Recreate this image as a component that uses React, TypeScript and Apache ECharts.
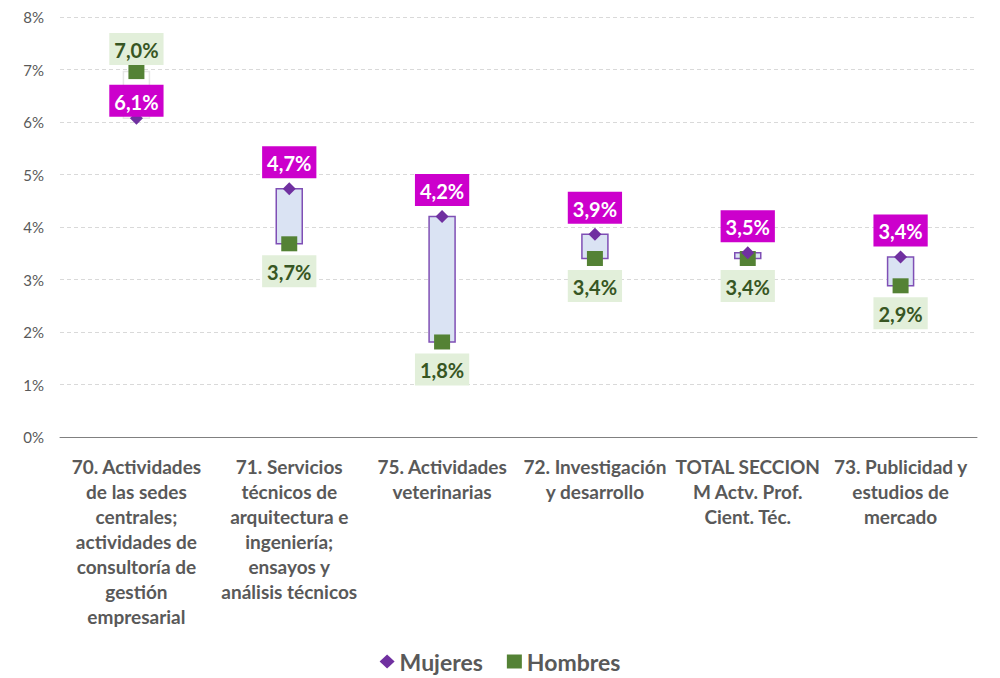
import React, { useEffect, useRef } from "react";
import * as echarts from "echarts";

const categories = [
  "70. Actividades\nde las sedes\ncentrales;\nactividades de\nconsultoría de\ngestión\nempresarial",
  "71. Servicios\ntécnicos de\narquitectura e\ningeniería;\nensayos y\nanálisis técnicos",
  "75. Actividades\nveterinarias",
  "72. Investigación\ny desarrollo",
  "TOTAL SECCION\nM Actv. Prof.\nCient. Téc.",
  "73. Publicidad y\nestudios de\nmercado",
];
const mujeres = [6.07, 4.73, 4.2, 3.86, 3.51, 3.43];
const hombres = [6.96, 3.68, 1.81, 3.4, 3.4, 2.88];
const yTicks = [0, 1, 2, 3, 4, 5, 6, 7, 8];

const FONT = "Lato, 'Open Sans', sans-serif";
const fmt = (v: number) => v.toFixed(1).replace(".", ",") + "%";

export default function App() {
  const ref = useRef<HTMLDivElement>(null);
  useEffect(() => {
    if (!ref.current) return;
    const chart = echarts.init(ref.current, null, { renderer: "svg" });
    const barData = categories.map((_, i) => [i, mujeres[i], hombres[i]]);
    chart.setOption({
      animation: false,
      textStyle: { fontFamily: FONT },
      grid: { left: 60, right: 23, top: 17, bottom: 241 },
      legend: {
        bottom: 0,
        left: "center",
        itemGap: 24,
        itemWidth: 15,
        itemHeight: 14,
        textStyle: { fontFamily: FONT, fontSize: 23, fontWeight: "bold", color: "#595959" },
        data: [
          { name: "Mujeres", icon: "diamond", itemStyle: { color: "#7030A0", opacity: 1 } },
          { name: "Hombres", icon: "rect", itemStyle: { color: "#548235", opacity: 1 } },
        ],
      },
      xAxis: {
        type: "category",
        data: categories,
        axisLine: { lineStyle: { color: "#808080", width: 1 } },
        axisTick: { show: false },
        axisLabel: {
          interval: 0,
          margin: 17,
          fontFamily: FONT,
          fontSize: 19,
          fontWeight: "bold",
          color: "#595959",
          lineHeight: 25,
          align: "center",
        },
      },
      yAxis: {
        type: "value",
        min: yTicks[0],
        max: yTicks[yTicks.length - 1],
        interval: 1,
        axisLine: { show: false },
        axisTick: { show: false },
        axisLabel: {
          formatter: (v: number) => v + "%",
          fontFamily: FONT,
          fontSize: 15,
          color: "#595959",
          margin: 16,
        },
        splitLine: { lineStyle: { color: "#D9D9D9", type: [4, 3], width: 1 } },
      },
      series: [
        {
          type: "custom",
          name: "bars",
          z: 1,
          data: barData,
          encode: { x: 0, y: [1, 2] },
          renderItem: (params: any, api: any) => {
            const i = api.value(0);
            const m = api.value(1);
            const h = api.value(2);
            const p1 = api.coord([i, m]);
            const p2 = api.coord([i, h]);
            const top = Math.min(p1[1], p2[1]);
            const bottom = Math.max(p1[1], p2[1]);
            const up = m >= h;
            return {
              type: "rect",
              shape: { x: p1[0] - 13, y: top, width: 26, height: bottom - top },
              style: {
                fill: up ? "#DAE3F3" : "#FFFFFF",
                stroke: up ? "#7F4FB5" : "#E6E6E6",
                lineWidth: 1.5,
              },
            };
          },
        },
        {
          type: "scatter",
          name: "Hombres",
          z: 3,
          symbol: "rect",
          symbolSize: [16, 15],
          itemStyle: { color: "#548235", opacity: 1 },
          data: hombres.map((v, i) =>
            i === 0 ? { value: v, label: { position: "top", distance: -1 } } : v
          ),
          label: {
            show: true,
            position: "bottom",
            distance: 4,
            formatter: (p: any) => fmt(p.value),
            fontFamily: FONT,
            fontSize: 20,
            fontWeight: "bold",
            color: "#375623",
            backgroundColor: "#E2EFDA",
            padding: [5, 5, 3, 5],
            lineHeight: 24,
          },
        },
        {
          type: "scatter",
          name: "Mujeres",
          z: 4,
          symbol: "diamond",
          symbolSize: 13,
          itemStyle: { color: "#7030A0", opacity: 1 },
          data: mujeres.map((v, i) =>
            i === 0 ? { value: v, label: { distance: -5 } } : v
          ),
          label: {
            show: true,
            position: "top",
            distance: 4,
            formatter: (p: any) => fmt(p.value),
            fontFamily: FONT,
            fontSize: 20,
            fontWeight: "bold",
            color: "#FFFFFF",
            backgroundColor: "#CC00CC",
            padding: [5, 5, 3, 5],
            lineHeight: 24,
          },
        },
      ],
    });
    return () => chart.dispose();
  }, []);
  return (
    <div
      ref={ref}
      style={{ position: "fixed", left: 0, top: 0, width: 1000, height: 678, background: "#fff" }}
    />
  );
}
